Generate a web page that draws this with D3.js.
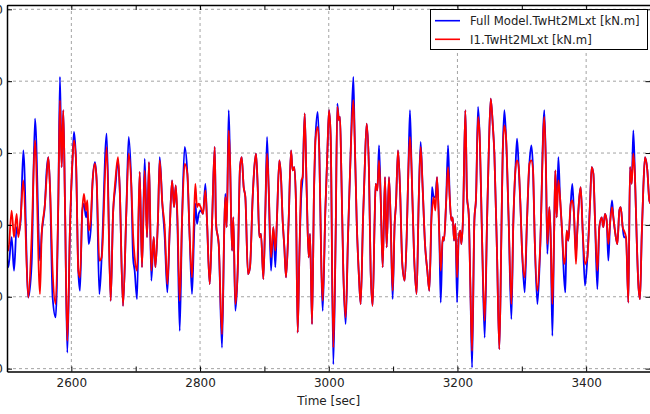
<!DOCTYPE html>
<html><head><meta charset="utf-8">
<script src="https://cdn.jsdelivr.net/npm/d3@7"></script>
<style>body{margin:0;background:#fff} svg{display:block} text{font-family:"DejaVu Sans",sans-serif}</style>
</head><body><svg id="c" width="650" height="414"></svg>
<script>
// Time [sec]
const time = [
2500.0,2502.1,2507.2,2510.9,2515.0,2517.6,2521.2,2525.4,2533.1,2538.3,2543.5,2551.3,2553.9,2559.0,2561.6,2564.2,2566.8,2570.9,2575.6,2579.7,
2582.3,2584.9,2587.5,2590.1,2593.7,2597.9,2602.0,2604.1,2607.2,2610.8,2613.4,2617.0,2619.6,2622.7,2624.8,2626.9,2630.0,2633.1,2636.7,2639.3,
2643.5,2647.1,2654.9,2661.1,
2664.8,2668.4,2672.5,2675.1,2680.3,2685.5,2689.1,2693.3,2695.9,2698.4,2702.1,2706.2,2709.8,2714.0,2717.6,2720.7,2724.3,2728.0,2730.6,2734.7,
2737.3,2741.4,2745.1,2749.2,2752.8,2756.5,2759.6,2762.2,2764.7,2768.4,2772.0,2776.1,2780.3,2783.9,2787.5,2790.6,2792.7,2795.3,2797.9,2801.0,
2804.6,2808.3,2810.8,2815.0,2818.6,2822.8,
2824.8,2829.0,2834.1,2837.8,2839.3,2841.4,2844.5,2846.6,2849.7,2851.7,2854.8,2858.5,2862.1,2864.7,2867.8,2870.4,2874.5,2877.6,2881.8,2884.4,
2887.0,2889.6,2892.1,2894.7,2898.4,2901.5,2904.1,2906.6,2910.3,2913.9,2917.0,2919.6,2923.2,2925.8,2928.4,2931.0,2933.6,2937.7,2941.4,2943.9,
2946.5,2949.1,2951.7,2954.3,2957.4,2959.5,2962.6,2965.7,2968.8,2970.9,2974.0,2977.1,2979.2,2982.8,2985.4,2988.5,2990.6,2994.7,
2997.8,3000.4,3003.0,3007.1,3010.7,3013.3,3015.9,3017.5,3019.5,3022.6,3026.3,3029.9,3034.0,3038.2,3040.3,3043.4,3047.0,3049.6,3053.2,3055.8,
3058.9,3062.5,3065.1,3068.2,3071.3,3072.9,3075.5,3078.1,3080.7,3083.8,3087.4,3090.0,3093.6,3096.2,3099.3,3102.4,3104.5,3107.6,3110.7,3114.3,
3118.0,3121.1,3123.7,3126.2,3128.8,3132.5,3136.6,3139.7,3142.8,3145.9,3149.6,3153.2,3156.3,3159.4,
3160.5,3163.1,3165.7,3168.3,3171.9,3174.0,3177.1,3179.1,3182.3,3185.4,3188.0,3190.5,3192.6,3194.7,3196.8,3199.4,3201.9,3204.5,3206.1,3208.7,
3212.3,3214.9,3217.5,3220.1,3222.7,3226.3,3228.9,3232.0,3234.6,3238.2,3242.3,3246.0,3248.6,3251.7,3254.8,3257.4,3261.5,3265.1,3268.2,3270.3,
3272.9,3275.5,3279.6,3283.8,3286.9,3290.0,3292.6,3295.2,3297.8,3300.4,3304.5,3308.1,3311.8,3314.9,3317.5,3320.0,3324.2,
3328.3,3335.0,3337.6,3339.7,3342.8,3344.9,3347.5,3350.1,3352.1,3354.2,3356.8,3359.4,3362.5,3365.6,3367.7,3369.7,3372.3,3376.0,3378.5,3381.1,
3384.2,3386.3,3389.4,3391.5,3394.6,3398.2,3401.9,3406.0,3408.6,3411.2,3413.8,3417.4,3420.5,3424.1,3426.7,3429.3,3431.9,3434.5,3437.1,3440.2,
3442.3,3445.4,3448.5,3451.6,3453.7,3456.8,3458.8,3462.0,3465.6,3468.2,3470.8,3473.3,3475.9,3478.5,3481.1,3483.7,3486.3,3488.9,3491.5,3495.1,
3498.2,3500.3
];
// Full Model.TwHt2MLxt [kN.m] (blue)
const fullModel = [
-2260,-2950,-860,-3190,-160,-630,300,5190,-5050,-2720,7400,-2490,-630,1470,3790,4720,2630,-5050,-6440,1470,
10300,4020,7980,1470,-8890,-160,4720,6470,4490,-3190,-4580,1000,1470,530,1000,-1330,-400,3090,4370,3090,
-4810,-2260,6350,-5280,
770,2630,4490,2630,-5630,1000,6120,2630,-2260,-3190,-5160,3680,-2950,4610,-860,4370,-3880,-860,-2950,530,
4720,1470,-860,-4700,-400,3090,1230,2740,300,-7370,300,5420,3560,-860,-4810,-860,1470,70,770,1000,
770,2860,300,-4120,70,5420,
70,-1330,-8540,70,2160,-160,7980,4490,-1790,530,-5980,-3190,4020,4720,2630,1930,-3420,-2950,1930,4020,
4950,2630,-860,-630,-3770,1000,6120,2630,-3190,-160,-2950,530,4490,3330,300,-1560,-3650,300,5190,3790,
4020,1470,-7490,-2260,2160,3330,7750,2400,-2260,-630,-6910,2400,5880,7860,4950,-2950,-5980,1000,
4950,7980,6120,-9700,-860,8440,7280,7510,3790,-3190,-6910,-860,4950,10300,6120,300,-3650,-5510,300,3790,
7050,3790,-3190,-5630,300,2860,2400,5540,1930,-2950,3330,-1560,3330,300,-5160,70,1470,5190,2630,-2720,
-3880,-860,3790,7980,3790,-2020,-4810,1470,5770,2630,-1330,-3190,-4580,300,
2630,1930,1930,3330,-860,-5400,-860,-1090,1470,5540,1930,300,530,-1090,70,-5400,-860,-400,-1330,530,
7980,1930,770,-4350,-9930,300,1930,8210,6120,-860,-7840,300,4950,8790,7050,4950,-2020,-8650,-860,4950,
7980,6120,300,-6560,300,3790,6000,4020,1470,-1790,-4700,300,4260,5540,3790,-860,-5510,
-2020,7980,3790,-2020,1230,-860,-7720,-860,3790,530,4720,1930,-400,-3650,-4700,-400,-1090,1470,2860,770,
-2020,-400,1930,2630,-400,-4230,-2260,1470,4020,3560,300,-4470,-160,530,-160,770,300,-2490,70,1700,
530,-630,-1330,1000,1230,-160,-860,-860,-5400,4020,2860,6580,3330,-860,-4120,-5160,-860,2630,4720,3790,
1700,1470
];
// I1.TwHt2MLxt [kN.m] (red)
const i1 = [
-1330,-1790,1000,-860,770,-860,530,3090,-5050,-860,5880,-4810,-630,1470,3330,4720,2630,-3190,-5510,1470,
8680,4020,7980,1470,-8070,-160,4720,5880,4490,-3190,-3650,1000,2160,1000,1700,-400,300,3090,4260,3090,
-2490,-2260,5420,-5280,
770,3090,4720,2630,-5630,1000,4950,2630,-630,-2260,-3190,3680,-2950,3790,-860,4370,-3190,-860,-2950,530,
4490,1470,-160,-4120,-400,3090,1230,2740,770,-5280,300,4260,3560,-860,-3650,530,2860,1230,1470,1230,
770,2400,300,-4120,70,5420,
70,-1330,-7610,70,1930,-160,6580,4490,-1790,530,-5510,-3190,4020,4720,2630,1930,-3420,-2950,1930,4020,
4950,2630,-860,-630,-3770,1000,4950,2630,-2260,-160,-1790,530,4490,3330,300,-1560,-3650,300,5190,3790,
4020,1470,-7490,-2260,3090,3330,7750,2400,-2260,-630,-6910,2400,5880,6820,4950,-2950,-5280,1000,
4950,7980,6120,-8540,-860,8210,7280,7510,3790,-3190,-6440,-860,4950,8680,6120,300,-3650,-5510,300,3790,
7050,3790,-3190,-5630,300,2860,2400,4490,1930,-2950,3330,-1560,3330,300,-4580,70,1470,5190,2630,-2720,
-3880,-860,3790,6120,3790,-2020,-4810,1470,5420,2630,-1330,-3190,-4580,300,
1000,1930,1000,3330,-860,-3190,-860,-1090,1470,4020,1930,300,530,-1090,70,-3650,-860,-400,-1330,530,
7980,1930,770,-4350,-8770,300,1930,7510,6120,-860,-6680,300,4950,8790,7050,4950,-2020,-8650,-860,4950,
6930,6120,300,-5510,300,3790,4490,4020,1470,-1790,-3650,300,4260,4490,3790,-860,-4580,
-1790,7510,3790,-1330,1230,-860,-5510,-860,3790,530,3090,1930,-400,-2720,-2260,-400,-1090,1470,1700,770,
-2720,-400,1930,2630,-400,-2720,-2260,1470,4020,3560,300,-3190,-160,530,-160,770,300,-1330,70,1230,
530,-630,-1330,1000,1230,-160,-400,-860,-5400,4020,2860,4950,3330,-860,-4120,-5160,-860,2630,4720,3790,
1700,1470
];
const xTicks = [2500,2600,2700,2800,2900,3000,3100,3200,3300,3400,3500];
const xTickLabels = ["", "2600", "", "2800", "", "3000", "", "3200", "", "3400", ""];
const yTicks = [-10000,-5000,0,5000,10000,15000];
const gridX = [2600,2800,3000,3200,3400];
const seriesNames = ["Full Model.TwHt2MLxt [kN.m]","I1.TwHt2MLxt [kN.m]"];
const seriesColors = ["#0000ff","#ff0000"];
const xLabel = "Time [sec]";

const svg = d3.select("#c");
const L = 7, R = 650.5, T = 5, B = 371.5;
const x = d3.scaleLinear().domain([2500,3500]).range([L,R]);
const y = d3.scaleLinear().domain([-10200,15300]).range([B,T]);

svg.append("defs").append("clipPath").attr("id","clip")
  .append("rect").attr("x",L).attr("y",T).attr("width",R-L).attr("height",B-T);

// grid
const grid = svg.append("g").attr("stroke","#8c8c8c").attr("stroke-width",0.8).attr("stroke-dasharray","3,3");
grid.selectAll("line.v").data(gridX).join("line")
  .attr("x1",d=>x(d)).attr("x2",d=>x(d)).attr("y1",T).attr("y2",B);
grid.selectAll("line.h").data(yTicks).join("line").attr("class","h")
  .attr("x1",L).attr("x2",R).attr("y1",d=>y(d)).attr("y2",d=>y(d));

// series
const series = [fullModel, i1];
const line = d3.line().x((d,i)=>x(time[i])).y(d=>y(d)).curve(d3.curveMonotoneX);
const lg = svg.append("g").attr("clip-path","url(#clip)");
series.forEach((s,k)=>{
  lg.append("path").datum(s).attr("d",line).attr("fill","none")
    .attr("stroke",seriesColors[k]).attr("stroke-width",1.8).attr("stroke-linejoin","round");
});

// axes (ticks inward)
const xb = svg.append("g").attr("transform",`translate(0,${B})`)
  .call(d3.axisBottom(x).tickValues(xTicks).tickFormat((d,i)=>xTickLabels[i]).tickSizeInner(-5).tickSizeOuter(0).tickPadding(7));
const yl = svg.append("g").attr("transform",`translate(${L},0)`)
  .call(d3.axisLeft(y).tickValues(yTicks).tickFormat(d3.format("d")).tickSizeInner(-5).tickSizeOuter(0).tickPadding(4));
const xt = svg.append("g").attr("transform",`translate(0,${T})`)
  .call(d3.axisTop(x).tickValues(xTicks).tickFormat("").tickSizeInner(-5).tickSizeOuter(0));
const yr = svg.append("g").attr("transform",`translate(${R},0)`)
  .call(d3.axisRight(y).tickValues(yTicks).tickFormat("").tickSizeInner(-5).tickSizeOuter(0));
[xb,yl,xt,yr].forEach(g=>{
  g.select(".domain").attr("stroke","#000").attr("stroke-width",1.5);
  g.selectAll(".tick line").attr("stroke","#000").attr("stroke-width",1);
  g.selectAll("text").attr("font-family","DejaVu Sans").attr("font-size",12).attr("fill","#222");
});
svg.append("text").attr("x",(L+R)/2).attr("y",405).attr("text-anchor","middle")
  .attr("font-size",12).attr("fill","#222").text(xLabel);

// legend
const leg = svg.append("g");
leg.append("rect").attr("x",430.5).attr("y",9.5).attr("width",217).attr("height",40)
  .attr("fill","#fff").attr("stroke","#000").attr("stroke-width",1);
seriesNames.forEach((n,k)=>{
  const yy = 20.7 + k*18.6;
  leg.append("line").attr("x1",435).attr("x2",460).attr("y1",yy).attr("y2",yy)
    .attr("stroke",seriesColors[k]).attr("stroke-width",1.6);
  leg.append("text").attr("x",470).attr("y",yy+4.2).attr("font-size",11.7).attr("fill","#222").text(n);
});
</script></body></html>
